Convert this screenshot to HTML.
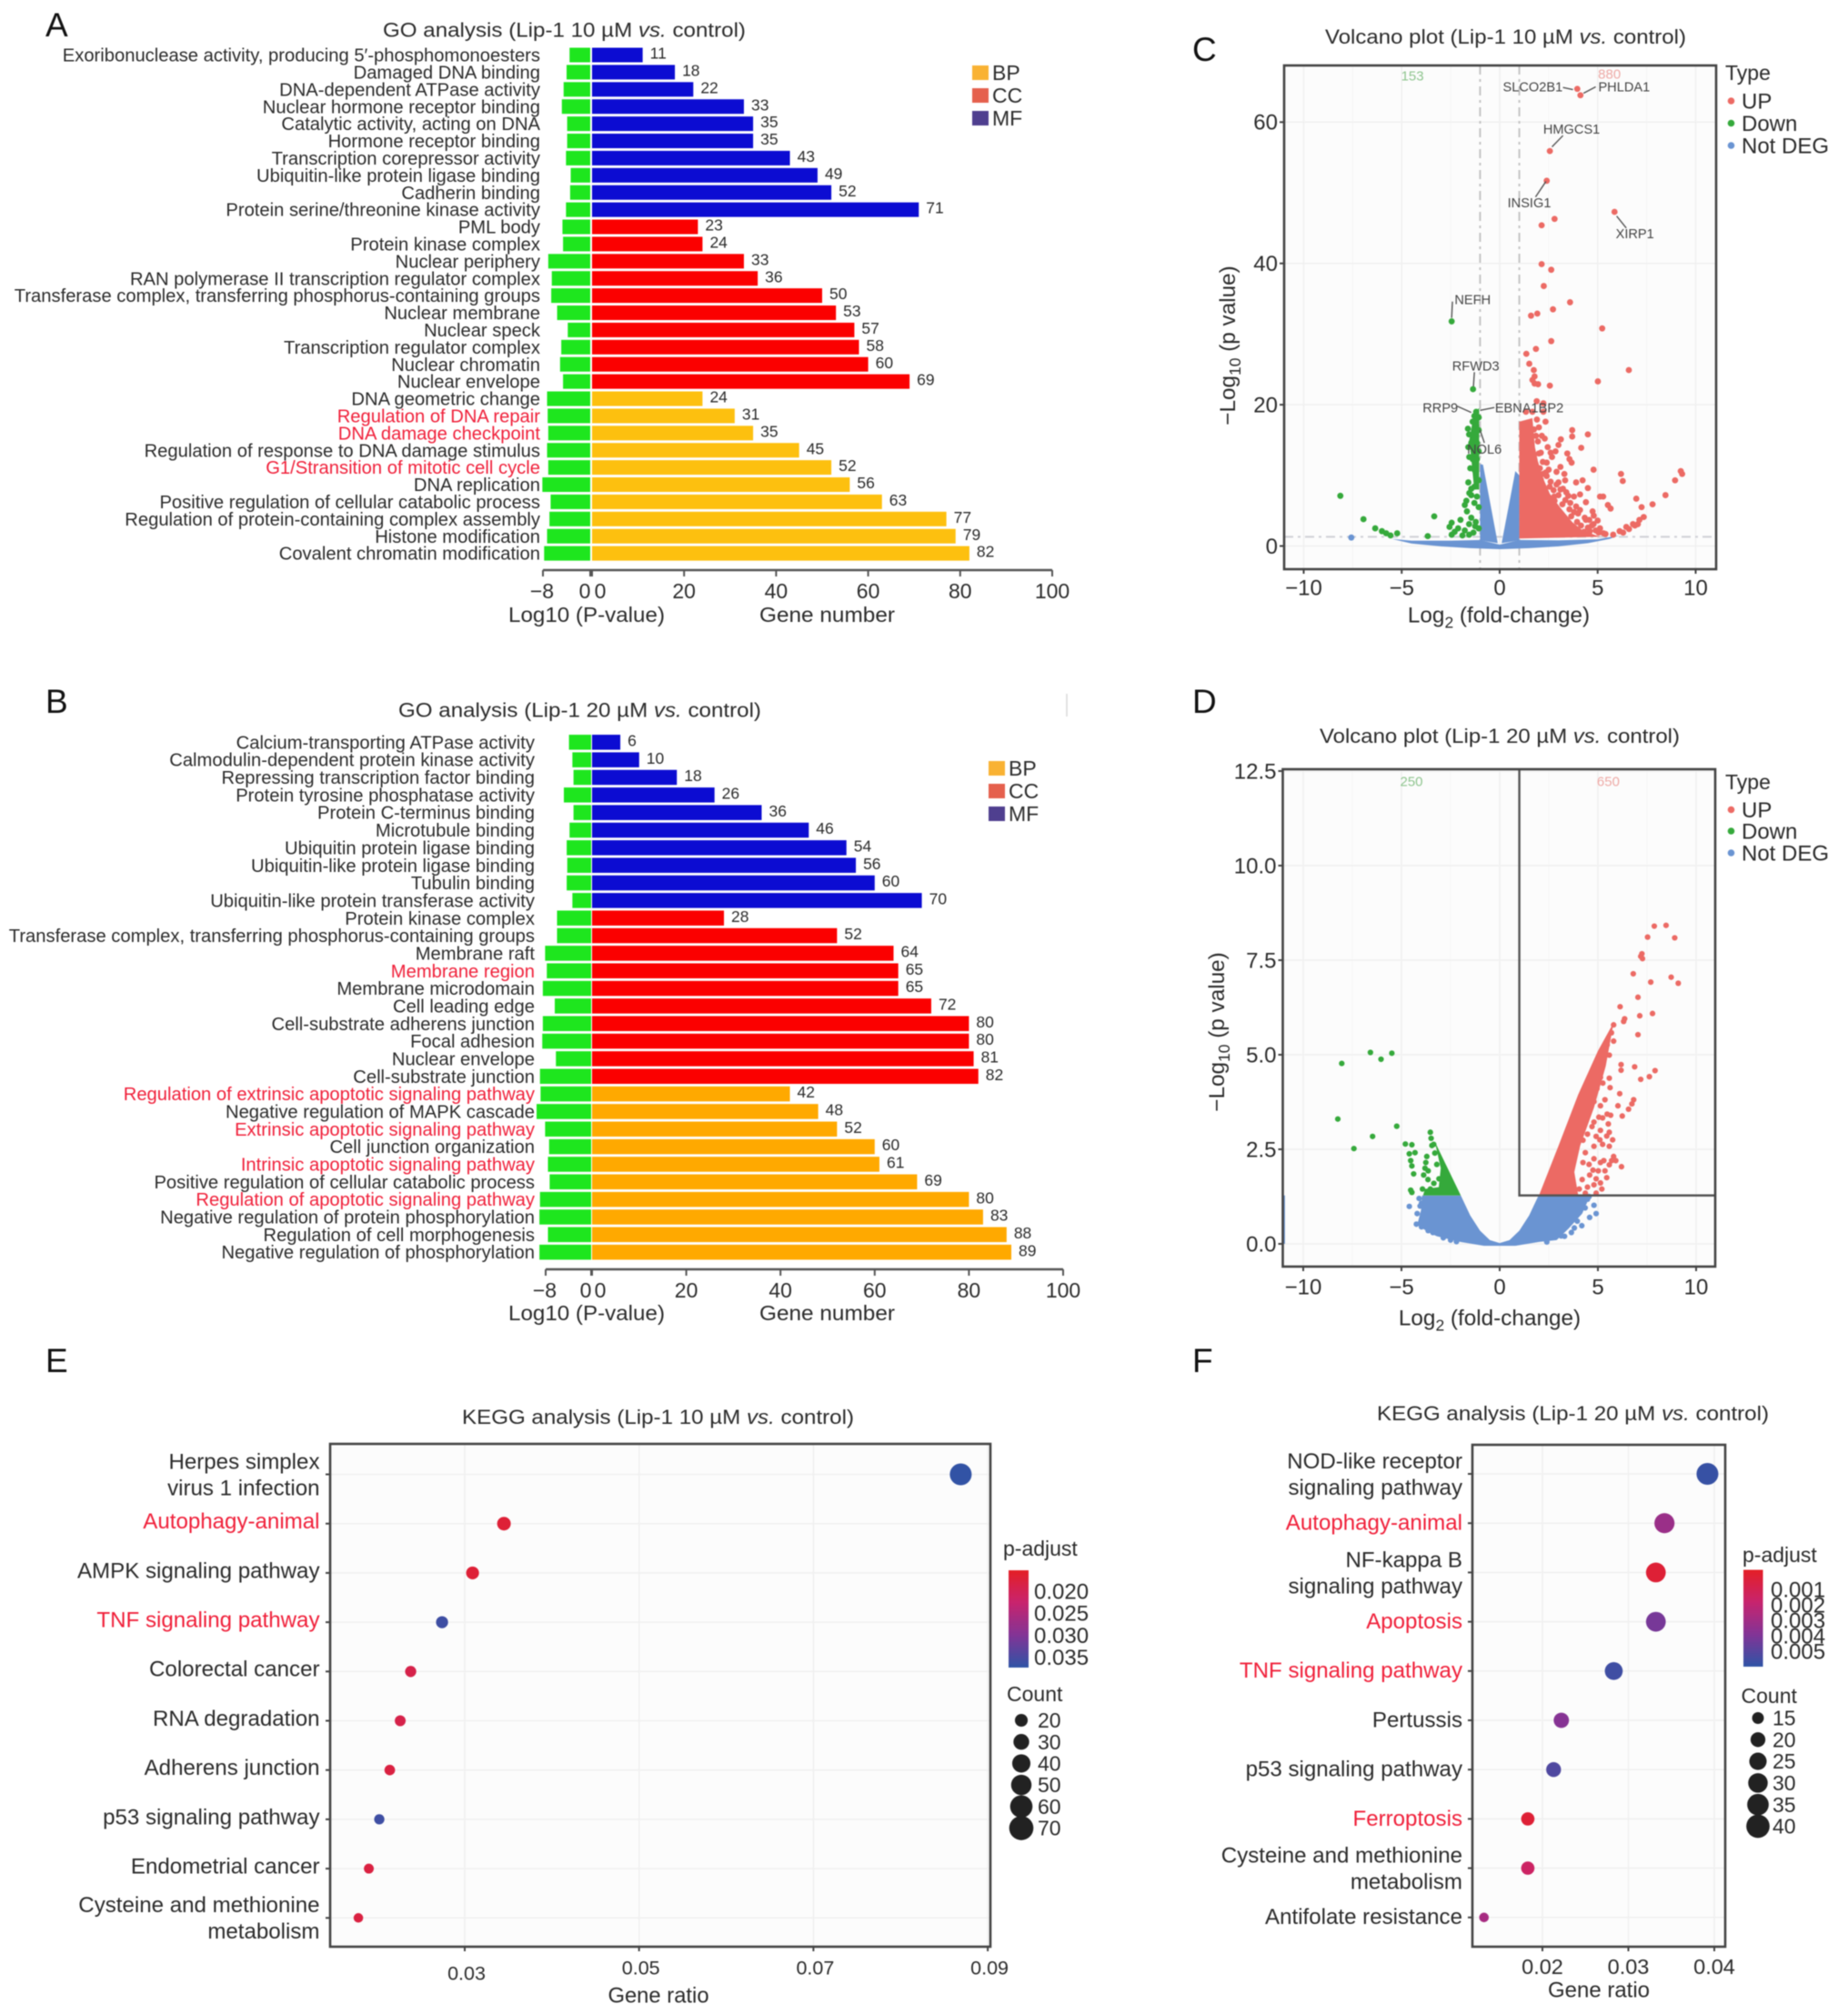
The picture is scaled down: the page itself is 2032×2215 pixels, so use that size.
<!DOCTYPE html>
<html lang="en">
<head>
<meta charset="utf-8">
<title>Lip-1 GO, volcano and KEGG analysis figure</title>
<style>
html,body{margin:0;padding:0;background:#fff;}
#figure{display:block;width:2032px;height:2215px;font-family:"Liberation Sans",Arial,sans-serif;filter:blur(0.45px);}
</style>
</head>
<body>
<svg id="figure" xmlns="http://www.w3.org/2000/svg" width="2032" height="2215" viewBox="0 0 2032 2215"></svg>
<script>
/* ---------- Panels A / B data ---------- */
const goCategoryOrder = ['MF', 'CC', 'BP'];
const goCategoryCounts = [10, 10, 10];
const goLegendLabels = ['BP', 'CC', 'MF'];
const goGeneTicks = [0, 20, 40, 60, 80, 100];
const goLogTicks = [-8, 0];

const goALabels = ["Exoribonuclease activity, producing 5′-phosphomonoesters","Damaged DNA binding","DNA-dependent ATPase activity","Nuclear hormone receptor binding","Catalytic activity, acting on DNA","Hormone receptor binding","Transcription corepressor activity","Ubiquitin-like protein ligase binding","Cadherin binding","Protein serine/threonine kinase activity","PML body","Protein kinase complex","Nuclear periphery","RAN polymerase II transcription regulator complex","Transferase complex, transferring phosphorus-containing groups","Nuclear membrane","Nuclear speck","Transcription regulator complex","Nuclear chromatin","Nuclear envelope","DNA geometric change","Regulation of DNA repair","DNA damage checkpoint","Regulation of response to DNA damage stimulus","G1/Stransition of mitotic cell cycle","DNA replication","Positive regulation of cellular catabolic process","Regulation of protein-containing complex assembly","Histone modification","Covalent chromatin modification"];
const goAGenes = [11,18,22,33,35,35,43,49,52,71,23,24,33,36,50,53,57,58,60,69,24,31,35,45,52,56,63,77,79,82];
const goALogP = [3.5,4.0,4.5,4.8,3.9,3.9,4.1,3.3,3.4,4.1,4.7,4.6,7.1,6.5,6.6,5.6,3.8,4.9,5.1,4.6,7.3,7.2,7.1,7.3,7.1,8.1,6.7,6.9,7.3,7.8];
const goAHighlighted = [21,22,24];

const goBLabels = ["Calcium-transporting ATPase activity","Calmodulin-dependent protein kinase activity","Repressing transcription factor binding","Protein tyrosine phosphatase activity","Protein C-terminus binding","Microtubule binding","Ubiquitin protein ligase binding","Ubiquitin-like protein ligase binding","Tubulin binding","Ubiquitin-like protein transferase activity","Protein kinase complex","Transferase complex, transferring phosphorus-containing groups","Membrane raft","Membrane region","Membrane microdomain","Cell leading edge","Cell-substrate adherens junction","Focal adhesion","Nuclear envelope","Cell-substrate junction","Regulation of extrinsic apoptotic signaling pathway","Negative regulation of MAPK cascade","Extrinsic apoptotic signaling pathway","Cell junction organization","Intrinsic apoptotic signaling pathway","Positive regulation of cellular catabolic process","Regulation of apoptotic signaling pathway","Negative regulation of protein phosphorylation","Regulation of cell morphogenesis","Negative regulation of phosphorylation"];
const goBGenes = [6,10,18,26,36,46,54,56,60,70,28,52,64,65,65,72,80,80,81,82,42,48,52,60,61,69,80,83,88,89];
const goBLogP = [3.9,3.3,3.1,4.8,3.1,3.8,4.3,4.2,4.3,3.3,6.0,6.0,8.1,7.8,8.5,6.4,8.5,8.6,6.2,9.0,8.9,9.6,8.1,7.4,7.6,7.3,9.0,9.1,7.6,9.1];
const goBHighlighted = [13,20,22,24,26];

/* ---------- Panels C / D data (log2 fold-change, -log10 p) ---------- */
const volcanoXTicks = [-10,-5,0,5,10];
const volcanoCYTicks = [0,20,40,60];
const volcanoDYTicks = [0,2.5,5,7.5,10,12.5];

const volcanoCBlueAreas = [
 [[-5.5,1],[-4.5,.75],[-2.5,.75],[-1,.85],[0,.2],[1,.85],[3,.8],[5,.95],[6.1,1.5],[5.6,1],[4.5,.4],[3,-.05],[1.5,-.3],[0,-.45],[-1.5,-.3],[-3,-.05],[-4.5,.35]],
 [[-.1,.4],[-.85,11.5],[-1,11.6],[-1,.8]],
 [[.1,.4],[.8,10.6],[1,10],[1,.8]]
];
const volcanoCRedArea = [[1,1.06],[1,17.6],[1.67,18.1],[1.8,14],[1.95,12],[2.23,9.5],[2.56,7.4],[3.1,5.4],[3.7,3.4],[4.23,2.2],[5.12,1.3]];
const volcanoCGreenArea = [[-1.05,19.5],[-1.3,19],[-1.55,15],[-1.4,11],[-1.3,8],[-1.05,8]];
const volcanoCBluePoints = [[-7.57,1.2]];
const volcanoCRedPoints = [[3.96,64.7],[4.12,63.8],[2.56,55.9],[2.4,51.7],[5.86,47.3],[2.8,46.3],[2.14,45.4],[2.14,39.9],[2.63,39.1],[2.25,36.8],[3.59,34.5],[2.72,33.5],[1.92,32.9],[1.6,32.6],[5.23,30.8],[2.63,29],[1.85,27.9],[1.36,27.2],[1.51,25.8],[1.74,24.9],[6.59,24.9],[1.78,24],[1.67,23.5],[5.01,23.3],[2.56,22.7],[1.96,22.9],[1.78,23],[1.89,20.5],[2.23,20.2],[1.34,19],[1.67,19],[2.23,19],[2.34,17.6],[3.7,16.4],[3.7,15.5],[4.5,15.8],[3.12,15.1],[3,14.3],[4.16,13.9],[2.45,14],[2.85,13.4],[3.45,13.1],[2.67,12.6],[3.56,12.3],[3.67,11.8],[4.79,10.8],[6.19,10.2],[6.28,9.2],[4.23,9.3],[3.34,9.3],[3,9],[9.24,10.6],[9.31,10.2],[8.95,9.3],[8.46,7.2],[6.97,6.7],[7.8,5.9],[7.24,5.5],[5.12,7],[5.28,7],[5.52,5.8],[5.66,5.3],[4.74,4.9],[4.57,3.7],[7.35,4.1],[7.13,3.7],[6.8,3.1],[6.46,2.7],[6.12,2.1],[5.79,1.6],[2.9,10.5],[4,4.6],[3.56,5.2],[4.34,4],[5.12,2.5],[4.79,3.1],[3.79,7],[3.23,8.1],[2.78,7],[3.1,11.2],[2.4,11.8],[2.1,13.2],[4.6,2.1],[5.4,1.7],[6.9,2.9],[7.05,3.1],[6.6,2.4],[6.3,1.9],[2.1,9.4],[2.4,9.9],[2.6,9.1],[2.9,8.7],[3.1,8],[3.4,7.6],[2.8,6.4],[3.6,6.1],[3.9,5.6],[4.1,5.1],[3.8,4.8],[4.4,3.7],[4.7,2.9],[4.9,2.2],[5.3,1.8],[3,7.2],[2.5,10.8],[2.2,11.9],[2,13.1],[1.95,14.8],[2.15,15.6],[2,16.8],[1.9,17.9],[2.3,15.2],[2.6,13.2],[3.3,10.2],[3.9,9],[4.5,8.2],[4.1,7.3],[4.4,6.2],[4.8,4.3],[5,3.6],[4.3,2],[2.55,8.4],[2.75,7.9],[2.35,10.4],[3.35,6.5],[3.2,5.9],[3.65,4.2],[3.95,3.4],[4.15,2.9],[4.5,2.6],[5.05,1.9],[1.85,15.6],[1.75,16.5],[2.05,11],[2.2,10.2],[3.5,7.1]];
const volcanoCGreenPoints = [[-8.13,7.1],[-6.95,3.8],[-6.35,2.5],[-6.01,2.1],[-5.79,1.8],[-5.57,1.5],[-5.23,1.8],[-3.34,4.2],[-3.67,1.4],[-2.45,3.3],[-2,3.7],[-2.56,2.7],[-2.12,2.5],[-1.78,5.8],[-1.67,4.9],[-1.56,3.1],[-1.45,8.1],[-1.29,10.8],[-2.45,31.8],[-1.36,22.2],[-1.2,19],[-1.29,18.4],[-1.07,18.2],[-1.38,17.6],[-1.2,17],[-1.56,15.8],[-1.29,15.8],[-1.07,16.4],[-1.45,14.6],[-1.16,14.6],[-1.34,13.4],[-1.07,13.4],[-1.38,12.3],[-1.16,12.3],[-1.22,10.5],[-1.07,9.3],[-1.29,8.4],[-1.45,7.2],[-1.16,7],[-1.29,6.1],[-1.07,5.5],[-1.45,4],[-1.22,3.4],[-1.07,2.5],[-1.34,1.9],[-1.56,1.6],[-1.78,2.2],[-2.45,1.6],[-1.6,9],[-1.55,7.5],[-1.7,6.4],[-2.3,2],[-1.9,1.5],[-1.25,2.8],[-1.62,16.6],[-1.6,14],[-1.55,12.6],[-1.5,11]];
const volcanoCGeneNames = ['SLCO2B1','PHLDA1','HMGCS1','INSIG1','XIRP1','NEFH','RFWD3','RRP9','EBNA1BP2','NOL6'];
const volcanoCGeneLabelX = [1.69,6.35,3.67,1.51,6.9,-1.38,-1.22,-3.03,1.51,-.78];
const volcanoCGeneLabelY = [65,65,59,48.6,44.2,34.9,25.5,19.6,19.6,13.7];
const volcanoCLeaders = [[3.23,64.9,3.74,64.6],[4.9,65,4.28,64.1],[3.23,58.1,2.67,56.5],[1.83,49.4,2.36,51.6],[6.46,45,5.97,46.7],[-2.41,34.6,-2.45,32.3],[-1.29,24.6,-1.34,22.6],[-2.18,19.8,-1.45,18.9],[-.27,19.6,-1,19.2],[-1,16.4,-.78,14.6]];

const volcanoDBlueArea = [[0,.02],[-.5,.1],[-1,.35],[-1.5,.75],[-1.98,1.28],[-3.95,1.28],[-4,.9],[-4.2,.5],[-3.6,.3],[-3.2,.2],[-2,.05],[-.8,-.05],[.8,-.05],[2,.05],[2.9,.1],[3.5,.4],[4.2,.8],[4.6,1.28],[1.98,1.28],[1.5,.75],[1,.35],[.5,.1]];
const volcanoDRedArea = [[2,1.28],[3,2.6],[4,3.95],[5,5.1],[5.8,5.85],[5.4,4.7],[4.8,3.6],[4.1,2.6],[3.8,1.9],[4,1.28]];
const volcanoDGreenArea = [[-3.3,2.7],[-1.98,1.28],[-3.9,1.28],[-3.8,1.45],[-3.1,1.5],[-3,2]];
const volcanoDEdgeArea = [[-11,0],[-10.93,0],[-10.93,1.28],[-11,1.28]];
const volcanoDBluePoints = [[-4.6,.99],[-4.2,.8],[-4.24,.52],[-3.98,.45],[-3.64,.35],[4.8,1.02],[4.91,.8],[4.58,.7],[4.18,.48],[4.47,1.18],[-3.98,1.07],[-3.76,.86],[-2.87,.16],[3.13,.21],[4.3,1.1],[-4.1,1.2],[-3.9,.7],[-3.7,.5],[-3.4,.3],[-4.05,1],[-3.55,.65],[-2.5,.1],[-2.2,.06],[2.4,.05],[3.3,.2],[3.8,.42],[3.95,.6],[4.35,.95],[4.05,.85],[3.65,.3],[4.55,1.25]];
const volcanoDRedPoints = [[8.47,8.42],[7.87,8.4],[7.53,8.11],[8.91,8.09],[7.24,7.67],[7.18,7.6],[7.27,7.54],[6.8,7.14],[8.73,7.05],[7.69,6.92],[9.09,6.89],[7.04,6.52],[6.13,6.27],[7.13,6.03],[7.78,6.09],[6.36,5.95],[6.31,5.88],[7.04,5.53],[5.8,5.79],[5.69,5.58],[5.8,5.36],[5.47,5.26],[5.58,4.99],[6.18,4.74],[6.18,4.59],[6.87,4.68],[7.91,4.58],[7.62,4.42],[7.18,4.35],[5.58,4.38],[5.62,4.13],[6.11,3.97],[6.82,3.81],[6.73,3.7],[6.56,3.56],[6.02,3.65],[6.24,3.38],[5.36,3.81],[4.8,3.76],[5.13,3.65],[5.47,3.43],[5.24,3.33],[5.53,3.17],[4.58,3.54],[4.24,3.22],[4.8,3.22],[5.13,3],[5.58,2.95],[4.47,2.9],[4.91,2.84],[4.24,2.74],[4.8,2.58],[5.24,2.63],[5.58,2.58],[3.91,2.52],[4.36,2.41],[5.8,2.31],[5.91,2.2],[6.2,2.04],[5.58,2.09],[5.13,2.15],[4.8,2.25],[4.24,2.15],[5.02,1.93],[5.36,1.93],[4.58,1.82],[4.91,1.72],[5.13,1.61],[4.8,1.56],[4.47,1.5],[4.91,1.34],[4.36,1.34],[5.02,4.77],[4.91,4.56],[4.69,4.29],[4.58,4.02],[4.42,3.81],[5.13,4.4],[5.36,5.15],[5.2,4.94],[3.6,2.3],[3.9,2.9],[4.1,3.3],[4.3,3.6],[4.6,4.4],[4.7,3.1],[4.55,2.1],[4.2,1.7],[4.05,1.45],[5.1,2.75],[5.3,2.2],[5.45,2.85],[5.65,3.4],[5.75,2.75],[5.05,3.35],[4.95,4.1],[5.25,4.25],[4.75,1.95],[5.45,1.75],[5.2,1.45],[5.7,2.2]];
const volcanoDGreenPoints = [[-6.58,5.06],[-5.49,5.04],[-6.04,4.88],[-8.04,4.77],[-8.24,3.3],[-5.24,3.11],[-6.47,2.84],[-7.42,2.52],[-4.8,2.64],[-4.47,2.62],[-4.31,2.41],[-4.6,2.38],[-4.53,2.2],[-4.47,2.06],[-4.38,1.85],[-4.53,1.42],[-4.47,1.36],[-3.53,2.95],[-3.49,2.79],[-3.36,2.63],[-3.71,2.31],[-3.76,2.15],[-3.64,1.93],[-3.87,1.82],[-3.93,1.45],[-3.53,1.45],[-3.09,1.72],[-3.3,2.4],[-3.45,2.6],[-3.65,1.7],[-3.35,1.6],[-3.2,2.1],[-3.8,2.0]];

/* ---------- Panels E / F data ---------- */
const keggELabels = [["Herpes simplex","virus 1 infection"],["Autophagy-animal"],["AMPK signaling pathway"],["TNF signaling pathway"],["Colorectal cancer"],["RNA degradation"],["Adherens junction"],["p53 signaling pathway"],["Endometrial cancer"],["Cysteine and methionine","metabolism"]];
const keggERatio = [.0869,.0345,.0309,.0274,.0238,.0226,.0214,.0202,.019,.0178];
const keggECount = [71,28,25,22,19,18,17,16,15,14];
const keggEPadj = [.037,.017,.017,.036,.019,.019,.018,.036,.018,.018];
const keggEHighlighted = [1,3];
const keggEXTicks = [.03,.05,.07,.09];
const keggEColorTicks = [.02,.025,.03,.035];
const keggESizeTicks = [20,30,40,50,60,70];

const keggFLabels = [["NOD-like receptor","signaling pathway"],["Autophagy-animal"],["NF-kappa B","signaling pathway"],["Apoptosis"],["TNF signaling pathway"],["Pertussis"],["p53 signaling pathway"],["Ferroptosis"],["Cysteine and methionine","metabolism"],["Antifolate resistance"]];
const keggFRatio = [.0392,.0342,.0332,.0332,.0283,.0222,.0213,.0183,.0183,.0132];
const keggFCount = [40,35,34,34,29,23,22,19,19,13];
const keggFPadj = [.0058,.0032,.0002,.0042,.0056,.0038,.0052,.0002,.0015,.0028];
const keggFHighlighted = [1,3,4,7];
const keggFXTicks = [.02,.03,.04];
const keggFColorTicks = [.001,.002,.003,.004,.005];
const keggFSizeTicks = [15,20,25,30,35,40];

/* ---------- helpers ---------- */
const svg = document.getElementById('figure');
const NS = 'http://www.w3.org/2000/svg';
const INK = '#2b2b2b', HILITE = '#f0203a';

function mk(parent, tag, attrs, name) {
  const el = document.createElementNS(NS, tag);
  for (const k in attrs) el.setAttribute(k, attrs[k]);
  
  
  parent.appendChild(el);
  return el;
}
function group(parent, name) { return mk(parent, 'g', {}, name); }
function txt(parent, x, y, str, size, anchor, fill, name, extra) {
  const el = mk(parent, 'text', Object.assign({x: x, y: y, 'font-size': size, 'text-anchor': anchor || 'start', fill: fill || INK, dy: '0.35em'}, extra || {}), name);
  el.textContent = str;
  return el;
}
function richTitle(parent, x, y, before, italic, after, size, width, name) {
  const el = mk(parent, 'text', {x: x, y: y, 'font-size': size, fill: INK, dy: '0.35em', textLength: width, lengthAdjust: 'spacingAndGlyphs'}, name);
  el.appendChild(document.createTextNode(before));
  const t = document.createElementNS(NS, 'tspan');
  t.setAttribute('font-style', 'italic');
  t.textContent = italic;
  el.appendChild(t);
  el.appendChild(document.createTextNode(after));
  return el;
}
function subText(parent, x, y, a, sub, b, size, name, extra) {
  const el = mk(parent, 'text', Object.assign({x: x, y: y, 'font-size': size, fill: INK, dy: '0.35em', 'text-anchor': 'middle'}, extra || {}), name);
  el.appendChild(document.createTextNode(a));
  const s = document.createElementNS(NS, 'tspan');
  s.setAttribute('font-size', size * 0.72);
  s.setAttribute('dy', size * 0.25);
  s.textContent = sub;
  el.appendChild(s);
  const r = document.createElementNS(NS, 'tspan');
  r.setAttribute('dy', -size * 0.25);
  r.textContent = b;
  el.appendChild(r);
  return el;
}

/* ---------- GO bar panels ---------- */
function goPanel(cfg) {
  const g = group(svg, cfg.name);
  const xG = v => cfg.x0 + v * cfg.kGene;
  const xL = v => cfg.xl0 + v * cfg.kLog;
  const yR = i => cfg.y0 + i * cfg.dy;
  const colors = {MF: cfg.mf, CC: cfg.cc, BP: cfg.bp};
  const rowCat = [];
  goCategoryOrder.forEach((c, k) => { for (let n = 0; n < goCategoryCounts[k]; n++) rowCat.push(c); });
  cfg.labels.forEach((label, i) => {
    const hi = cfg.highlighted.indexOf(i) >= 0;
    txt(g, cfg.labelX, yR(i), label, cfg.labelSize, 'end', hi ? HILITE : INK, 'term-label');
    mk(g, 'rect', {x: xL(-cfg.logp[i]), y: yR(i) - cfg.barH / 2, width: xL(0) - xL(-cfg.logp[i]), height: cfg.barH, fill: '#1ee61e'}, 'log-p-bar');
    mk(g, 'rect', {x: xG(0), y: yR(i) - cfg.barH / 2, width: xG(cfg.genes[i]) - xG(0), height: cfg.barH, fill: colors[rowCat[i]]}, 'gene-count-bar');
    txt(g, xG(cfg.genes[i]) + 8, yR(i) - 2, String(cfg.genes[i]), 17.5, 'start', INK, 'gene-count-value');
  });
  mk(g, 'line', {x1: xL(-8), x2: xG(100), y1: cfg.axisY, y2: cfg.axisY, stroke: '#555', 'stroke-width': 2.5}, 'x-axis-line');
  goGeneTicks.forEach(v => {
    mk(g, 'line', {x1: xG(v), x2: xG(v), y1: cfg.axisY, y2: cfg.axisY + 7, stroke: '#555', 'stroke-width': 2}, 'gene-axis-tick');
    txt(g, v === 0 ? xG(v) + 9 : xG(v), cfg.tickY, String(v), 23, 'middle', INK, 'gene-axis-tick-label');
  });
  goLogTicks.forEach(v => {
    mk(g, 'line', {x1: xL(v), x2: xL(v), y1: cfg.axisY, y2: cfg.axisY + 7, stroke: '#555', 'stroke-width': 2}, 'log-axis-tick');
    txt(g, v === 0 ? xL(v) - 6 : xL(v) - 1, cfg.tickY, v < 0 ? '\u2212' + Math.abs(v) : String(v), 23, 'middle', INK, 'log-axis-tick-label');
  });
  txt(g, 559, cfg.titleY, 'Log10 (P-value)', 23, 'start', INK, 'log-axis-title', {textLength: 172, lengthAdjust: 'spacingAndGlyphs'});
  txt(g, 835, cfg.titleY, 'Gene number', 23, 'start', INK, 'gene-axis-title', {textLength: 149, lengthAdjust: 'spacingAndGlyphs'});
  const legendColors = ['#f9b233', '#e5604d', '#4f3f8f'];
  goLegendLabels.forEach((l, i) => {
    const y = cfg.legendY + i * 25;
    mk(g, 'rect', {x: cfg.legendX, y: y - 8, width: 18, height: 16, fill: legendColors[i]}, 'legend-swatch-' + l.toLowerCase());
    txt(g, cfg.legendX + 22, y, l, 23, 'start', INK, 'legend-label-' + l.toLowerCase());
  });
}

/* ---------- Volcano panels ---------- */
function volcano(cfg) {
  const g = group(svg, cfg.name);
  const X = v => cfg.x0 + v * cfg.kx;
  const Y = v => cfg.y0 - v * cfg.ky;
  const poly = (pts, fill, name) => mk(g, 'polygon', {points: pts.map(p => X(p[0]) + ',' + Y(p[1])).join(' '), fill: fill}, name);
  const B = cfg.box;
  mk(g, 'rect', {x: B.l, y: B.t, width: B.r - B.l, height: B.b - B.t, fill: '#fcfcfc'}, 'plot-background');
  volcanoXTicks.forEach(v => {
    mk(g, 'line', {x1: X(v), x2: X(v), y1: B.t, y2: B.b, stroke: '#f0f0f0', 'stroke-width': 1.5}, 'x-gridline');
    if (v < 10) mk(g, 'line', {x1: X(v + 2.5), x2: X(v + 2.5), y1: B.t, y2: B.b, stroke: '#f6f6f6', 'stroke-width': 1}, 'x-minor-gridline');
  });
  cfg.yTicks.forEach(v => mk(g, 'line', {x1: B.l, x2: B.r, y1: Y(v), y2: Y(v), stroke: '#f0f0f0', 'stroke-width': 1.5}, 'y-gridline'));
  cfg.drawGuides(g, X, Y, B);
  cfg.blueAreas.forEach(a => poly(a, '#6a94d2', 'not-deg-cloud'));
  poly(cfg.redArea, '#ec6a64', 'up-cloud');
  poly(cfg.greenArea, '#35a93b', 'down-cloud');
  const dots = (pts, fill, name) => pts.forEach(p => mk(g, 'circle', {cx: X(p[0]), cy: Y(p[1]), r: cfg.r, fill: fill}, name));
  dots(cfg.bluePts, '#6a94d2', 'not-deg-point');
  dots(cfg.redPts, '#ec6a64', 'up-point');
  dots(cfg.greenPts, '#35a93b', 'down-point');
  cfg.afterPoints(g, X, Y);
  mk(g, 'rect', {x: B.l, y: B.t, width: B.r - B.l, height: B.b - B.t, fill: 'none', stroke: '#444', 'stroke-width': 2.6}, 'plot-frame');
  volcanoXTicks.forEach(v => {
    mk(g, 'line', {x1: X(v), x2: X(v), y1: B.b, y2: B.b + 5, stroke: '#444', 'stroke-width': 2}, 'x-axis-tick');
    txt(g, X(v), cfg.xTickY, v < 0 ? '\u2212' + Math.abs(v) : String(v), 24, 'middle', INK, 'x-axis-tick-label');
  });
  cfg.yTicks.forEach(v => {
    mk(g, 'line', {x1: B.l - 5, x2: B.l, y1: Y(v), y2: Y(v), stroke: '#444', 'stroke-width': 2}, 'y-axis-tick');
    txt(g, B.l - 7, Y(v), cfg.fmt(v), 24, 'end', INK, 'y-axis-tick-label');
  });
  subText(g, cfg.xTitleX, cfg.xTitleY, 'Log', '2', ' (fold-change)', 24.3, 'x-axis-title');
  subText(g, cfg.yTitleX, cfg.yTitleY, '\u2212Log', '10', ' (p value)', 24.3, 'y-axis-title', {transform: 'rotate(-90 ' + cfg.yTitleX + ' ' + cfg.yTitleY + ')'});
  txt(g, 1897, cfg.legY[0], 'Type', 23, 'start', INK, 'legend-title');
  const names = ['UP', 'Down', 'Not DEG'], cols = ['#ec6a64', '#35a93b', '#6a94d2'];
  names.forEach((n, i) => {
    mk(g, 'circle', {cx: 1903.5, cy: cfg.legY[i + 1], r: 3.8, fill: cols[i]}, 'legend-dot');
    txt(g, 1915, cfg.legY[i + 1], n, 24, 'start', INK, 'legend-label');
  });
}

/* ---------- KEGG dot panels ---------- */
function kegg(cfg) {
  const g = group(svg, cfg.name);
  const B = cfg.box;
  const X = v => cfg.xa + (v - cfg.xTicks[0]) * cfg.kx;
  const yR = i => cfg.y0 + i * cfg.dy;
  const R = c => Math.sqrt(Math.max(cfg.sa * c + cfg.sb, 4));
  const stops = [[228,31,38],[200,36,110],[130,52,150],[47,84,166]];
  const colorOf = p => {
    const t = Math.min(1, Math.max(0, (p - cfg.dom[0]) / (cfg.dom[1] - cfg.dom[0]))) * 3;
    const k = Math.min(2, Math.floor(t)), f = t - k;
    const c = [0, 1, 2].map(j => Math.round(stops[k][j] + (stops[k + 1][j] - stops[k][j]) * f));
    return 'rgb(' + c.join(',') + ')';
  };
  mk(g, 'rect', {x: B.l, y: B.t, width: B.r - B.l, height: B.b - B.t, fill: '#fcfcfc'}, 'plot-background');
  cfg.xTicks.forEach(v => mk(g, 'line', {x1: X(v), x2: X(v), y1: B.t, y2: B.b, stroke: '#f0f0f0', 'stroke-width': 1.5}, 'x-gridline'));
  cfg.labels.forEach((lines, i) => {
    mk(g, 'line', {x1: B.l, x2: B.r, y1: yR(i), y2: yR(i), stroke: '#f0f0f0', 'stroke-width': 1.5}, 'y-gridline');
    mk(g, 'line', {x1: B.l - 5, x2: B.l, y1: yR(i), y2: yR(i), stroke: '#444', 'stroke-width': 2}, 'y-axis-tick');
    const hi = cfg.highlighted.indexOf(i) >= 0;
    lines.forEach((line, j) => {
      const ly = yR(i) + (j - (lines.length - 1) / 2) * 29 - (lines.length === 1 ? cfg.singleLineUp : 0);
      txt(g, cfg.labelX, ly, line, 24.1, 'end', hi ? HILITE : INK, 'pathway-label');
    });
    mk(g, 'circle', {cx: X(cfg.ratio[i]), cy: yR(i), r: R(cfg.count[i]) * cfg.dotScale, fill: colorOf(cfg.padj[i])}, 'pathway-dot');
  });
  mk(g, 'rect', {x: B.l, y: B.t, width: B.r - B.l, height: B.b - B.t, fill: 'none', stroke: '#444', 'stroke-width': 2.6}, 'plot-frame');
  cfg.xTicks.forEach((v, i) => {
    mk(g, 'line', {x1: X(v), x2: X(v), y1: B.b, y2: B.b + 5, stroke: '#444', 'stroke-width': 2}, 'x-axis-tick');
    txt(g, X(v) + cfg.tickDx, cfg.tickY + (cfg.firstTickDy && i === 0 ? cfg.firstTickDy : 0), v.toFixed(2), cfg.tickSize, 'middle', INK, 'x-axis-tick-label');
  });
  txt(g, cfg.geneX, cfg.geneY, 'Gene ratio', cfg.geneSize, 'middle', INK, 'x-axis-title');
  txt(g, cfg.legX, cfg.padjY, 'p-adjust', 23, 'start', INK, 'color-legend-title');
  const grad = mk(g, 'linearGradient', {id: cfg.name + '-grad', x1: 0, x2: 0, y1: 0, y2: 1}, 'color-legend-gradient');
  stops.forEach((s, i) => mk(grad, 'stop', {offset: i / 3, 'stop-color': 'rgb(' + s.join(',') + ')'}, 'gradient-stop'));
  const cb = cfg.cbar;
  mk(g, 'rect', {x: cb.x, y: cb.t, width: cb.w, height: cb.b - cb.t, fill: 'url(#' + cfg.name + '-grad)'}, 'color-legend-bar');
  const cbY = v => cb.t + (v - cfg.dom[0]) / (cfg.dom[1] - cfg.dom[0]) * (cb.b - cb.t);
  cfg.colorTicks.forEach(v => txt(g, cfg.cbLabelX, cbY(v), v.toFixed(3), 24, 'start', INK, 'color-legend-label'));
  txt(g, cfg.countX, cfg.countY, 'Count', 23, 'start', INK, 'size-legend-title');
  cfg.sizeTicks.forEach((v, i) => {
    const y = cfg.sizeY0 + i * cfg.sizeDy;
    mk(g, 'circle', {cx: cfg.sizeX, cy: y, r: R(v) * cfg.legendScale, fill: '#222'}, 'size-legend-dot');
    txt(g, cfg.sizeLabelX, y, String(v), 23, 'start', INK, 'size-legend-label');
  });
}

/* ---------- build ---------- */
goPanel({name:'panel-a-go-chart', labels:goALabels, genes:goAGenes, logp:goALogP, highlighted:goAHighlighted,
  x0:651, kGene:5.06, xl0:649, kLog:6.5, y0:60.5, dy:18.9, barH:16, labelX:594, labelSize:20.2,
  mf:'#0c0cd2', cc:'#fb0000', bp:'#fdc00f', axisY:627, tickY:650, titleY:676, legendX:1069, legendY:80});
goPanel({name:'panel-b-go-chart', labels:goBLabels, genes:goBGenes, logp:goBLogP, highlighted:goBHighlighted,
  x0:651, kGene:5.18, xl0:650, kLog:6.25, y0:816.3, dy:19.34, barH:16.5, labelX:588, labelSize:20.2,
  mf:'#0c0cd2', cc:'#fb0000', bp:'#ffa900', axisY:1396, tickY:1419, titleY:1444, legendX:1087, legendY:845});

volcano({name:'panel-c-volcano', x0:1649, kx:21.55, y0:600.5, ky:7.77, r:3.4, box:{l:1412,r:1887,t:72,b:626},
  yTicks:volcanoCYTicks, fmt:v=>String(v), blueAreas:volcanoCBlueAreas, redArea:volcanoCRedArea, greenArea:volcanoCGreenArea,
  bluePts:volcanoCBluePoints, redPts:volcanoCRedPoints, greenPts:volcanoCGreenPoints,
  xTickY:646, xTitleX:1648, xTitleY:676, yTitleX:1349.5, yTitleY:380, legY:[80,111,135.5,160],
  drawGuides:(g,X,Y,B)=>{
    [-1,1].forEach(v=>mk(g,'line',{x1:X(v),x2:X(v),y1:B.t,y2:B.b,stroke:'#c4c4c4','stroke-width':2,'stroke-dasharray':'10 5 3 5'},'fold-change-threshold'));
    mk(g,'line',{x1:B.l,x2:B.r,y1:Y(1.3),y2:Y(1.3),stroke:'#cfd0d6','stroke-width':2,'stroke-dasharray':'10 5 3 5'},'p-value-threshold');
  },
  afterPoints:(g,X,Y)=>{
    txt(g,X(-4.45),Y(66.6),'153',15,'middle','#8fc58f','down-count');
    txt(g,X(5.6),Y(66.8),'880',15,'middle','#eeaaa6','up-count');
    volcanoCLeaders.forEach(l=>mk(g,'line',{x1:X(l[0]),y1:Y(l[1]),x2:X(l[2]),y2:Y(l[3]),stroke:'#555','stroke-width':1.4},'gene-leader-line'));
    volcanoCGeneNames.forEach((n,i)=>txt(g,X(volcanoCGeneLabelX[i]),Y(volcanoCGeneLabelY[i]),n,14.6,'middle','#444','gene-label'));
  }});

volcano({name:'panel-d-volcano', x0:1649, kx:21.6, y0:1368, ky:41.6, r:3.1, box:{l:1410.5,r:1886,t:846,b:1393},
  yTicks:volcanoDYTicks, fmt:v=>v.toFixed(1), blueAreas:[volcanoDBlueArea,volcanoDEdgeArea], redArea:volcanoDRedArea, greenArea:volcanoDGreenArea,
  bluePts:volcanoDBluePoints, redPts:volcanoDRedPoints, greenPts:volcanoDGreenPoints,
  xTickY:1415, xTitleX:1638, xTitleY:1449, yTitleX:1337.5, yTitleY:1135, legY:[860,890.5,914,938],
  drawGuides:()=>{},
  afterPoints:(g,X,Y)=>{
    txt(g,X(-4.49),Y(12.23),'250',15,'middle','#8fc58f','down-count');
    txt(g,X(5.53),Y(12.23),'650',15,'middle','#eeaaa6','up-count');
    mk(g,'path',{d:'M'+X(1)+' '+Y(12.55)+'L'+X(1)+' '+Y(1.28)+'L'+X(10.95)+' '+Y(1.28),fill:'none',stroke:'#555','stroke-width':2.4},'threshold-box');
  }});

kegg({name:'panel-e-kegg', box:{l:363,r:1089,t:1588,b:2141}, labels:keggELabels, ratio:keggERatio, count:keggECount, padj:keggEPadj, highlighted:keggEHighlighted,
  xTicks:keggEXTicks, colorTicks:keggEColorTicks, sizeTicks:keggESizeTicks, dom:[.0153,.0373],
  xa:511, kx:9585, y0:1621.5, dy:54.2, labelX:351.5, sa:1.93, sb:-1, tickDx:2, tickY:2164, firstTickDy:6, tickSize:21.5, singleLineUp:3, dotScale:1.03, legendScale:1.15,
  geneX:724, geneY:2194, geneSize:23.8, legX:1103, padjY:1703, cbar:{x:1109,w:22,t:1727,b:1834}, cbLabelX:1137,
  countX:1107, countY:1863, sizeX:1123, sizeY0:1892, sizeDy:23.7, sizeLabelX:1141});
kegg({name:'panel-f-kegg', box:{l:1619,r:1897,t:1589,b:2141}, labels:keggFLabels, ratio:keggFRatio, count:keggFCount, padj:keggFPadj, highlighted:keggFHighlighted,
  xTicks:keggFXTicks, colorTicks:keggFColorTicks, sizeTicks:keggFSizeTicks, dom:[-.00026,.006],
  xa:1696, kx:9450, y0:1621, dy:54.2, labelX:1608, sa:4.3, sb:-28, tickDx:0, tickY:2163, tickSize:23.5, singleLineUp:1, dotScale:1, legendScale:1.07,
  geneX:1758, geneY:2188, geneSize:24, legX:1916, padjY:1710, cbar:{x:1917,w:21.5,t:1726.5,b:1833}, cbLabelX:1947,
  countX:1914.5, countY:1865, sizeX:1933, sizeY0:1889.5, sizeDy:23.8, sizeLabelX:1949});

/* ---------- titles and panel letters ---------- */
const titleGroup = group(svg, 'figure-titles');
richTitle(titleGroup, 421, 33, 'GO analysis (Lip-1 10 µM ', 'vs.', ' control)', 22, 399, 'panel-a-title');
richTitle(titleGroup, 438, 781, 'GO analysis (Lip-1 20 µM ', 'vs.', ' control)', 22, 399, 'panel-b-title');
richTitle(titleGroup, 1457, 40, 'Volcano plot (Lip-1 10 µM ', 'vs.', ' control)', 22.5, 397, 'panel-c-title');
richTitle(titleGroup, 1451, 809, 'Volcano plot (Lip-1 20 µM ', 'vs.', ' control)', 22.5, 396, 'panel-d-title');
richTitle(titleGroup, 508, 1558, 'KEGG analysis (Lip-1 10 µM ', 'vs.', ' control)', 22.5, 431, 'panel-e-title');
richTitle(titleGroup, 1514, 1554, 'KEGG analysis (Lip-1 20 µM ', 'vs.', ' control)', 22.5, 431, 'panel-f-title');
const letters = [['A',50,27],['B',50,771],['C',1311,54],['D',1311,771],['E',50,1496],['F',1311,1496]];
letters.forEach(l => txt(titleGroup, l[1], l[2], l[0], 37, 'start', '#111', 'panel-letter-' + l[0].toLowerCase()));
mk(titleGroup, 'line', {x1: 1173, x2: 1173, y1: 763, y2: 788, stroke: '#d8d8d8', 'stroke-width': 1.5}, 'stray-divider');
</script>
</body>
</html>
